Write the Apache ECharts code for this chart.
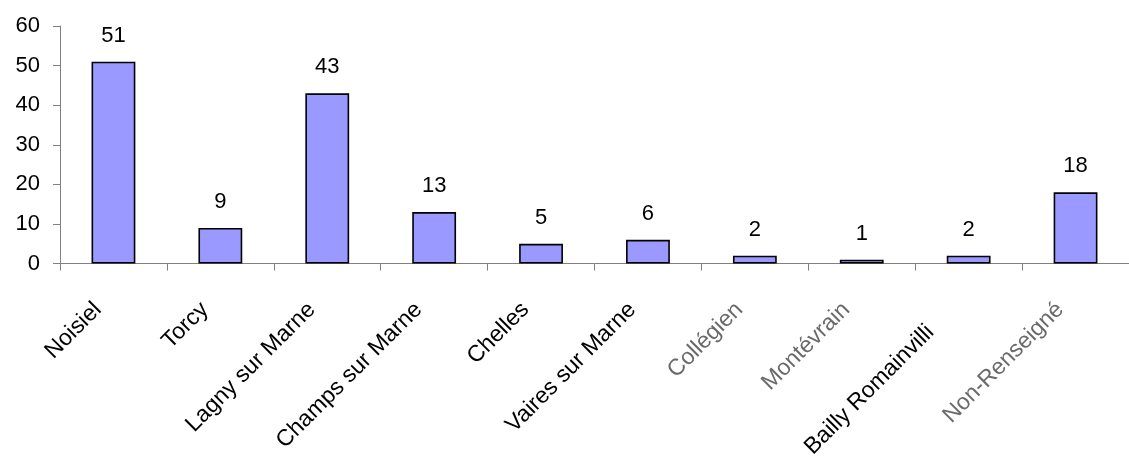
<!DOCTYPE html>
<html lang="fr">
<head>
    <meta charset="UTF-8">
    <title>communes</title>
    <script src="https://cdn.jsdelivr.net/npm/echarts@6/dist/echarts.min.js"></script>
    <style>
        html, body { margin: 0; padding: 0; background: #fff; }
        .box { width: 1129px; height: 461px; }
    </style>
</head>
<body>
    <div class="box"></div>
    <script>
        // donnees
        var communes = ['Noisiel', 'Torcy', 'Lagny sur Marne', 'Champs sur Marne', 'Chelles',
            'Vaires sur Marne', 'Collégien', 'Montévrain', 'Bailly Romainvilliers', 'Non-Renseigné']
        var effectifs = [51, 9, 43, 13, 5, 6, 2, 1, 2, 18]
        var yTicks = [0, 10, 20, 30, 40, 50, 60]

        // ces libelles sont rendus brouilles dans l'original, un peu plus pales
        var pales = ['Collégien', 'Montévrain', 'Non-Renseigné']

        let oBox = document.querySelector('.box')
        let chart = echarts.init(oBox)

        var lbl = { fontFamily: 'Liberation Sans', fontSize: 23, color: '#000', padding: [0, 22, 0, 0] }

        let option = {
            animation: false,
            grid: { left: 60, right: -10, top: 26, bottom: 196 },
            xAxis: {
                type: 'category',
                data: communes,
                axisLine: { lineStyle: { color: '#808080', width: 1 } },
                axisTick: { show: true, length: 7, lineStyle: { color: '#808080' } },
                axisLabel: {
                    interval: 0,
                    rotate: 45,
                    margin: 27,
                    fontFamily: 'Liberation Sans',
                    fontSize: 23,
                    color: '#000',
                    formatter: function (v) {
                        if (v === 'Bailly Romainvilliers') {
                            // la fin du libelle est coupee dans l'original
                            return '{b|Bailly Romainvilli}{h|ers}'
                        }
                        if (pales.indexOf(v) >= 0) return '{p|' + v + '}'
                        return '{n|' + v + '}'
                    },
                    rich: {
                        n: lbl,
                        p: Object.assign({}, lbl, { color: '#6a6a6a' }),
                        b: { fontFamily: 'Liberation Sans', fontSize: 23, color: '#000' },
                        h: Object.assign({}, lbl, { color: 'rgba(0,0,0,0)' })
                    }
                },
                splitLine: { show: false }
            },
            yAxis: {
                type: 'value',
                min: yTicks[0],
                max: yTicks[yTicks.length - 1],
                interval: 10,
                axisLine: { show: true, lineStyle: { color: '#808080', width: 1 } },
                axisTick: { show: true, length: 7, lineStyle: { color: '#808080' } },
                axisLabel: {
                    margin: 20,
                    fontFamily: 'Liberation Sans',
                    fontSize: 22,
                    color: '#000'
                },
                splitLine: { show: false }
            },
            series: [{
                type: 'bar',
                data: effectifs,
                barWidth: '41%',
                itemStyle: { color: '#9999ff', borderColor: '#000', borderWidth: 1.6 },
                label: {
                    show: true,
                    position: 'top',
                    distance: 15,
                    fontFamily: 'Liberation Sans',
                    fontSize: 22,
                    color: '#000'
                }
            }]
        }
        chart.setOption(option)
    </script>
</body>
</html>
